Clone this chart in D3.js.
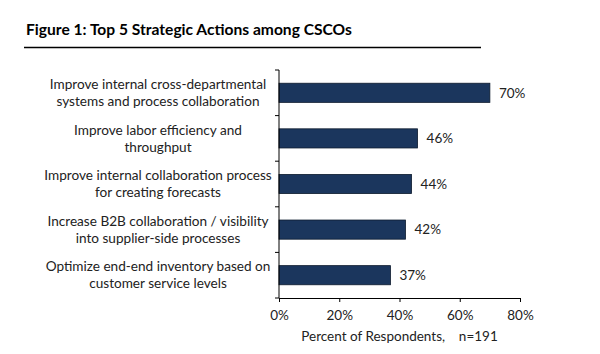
<!DOCTYPE html>
<html>
<head>
<meta charset="utf-8">
<script src="https://cdn.jsdelivr.net/npm/d3@7"></script>
<style>
  body { margin: 0; background: #fff; }
  text { font-family: Lato, "Open Sans", sans-serif; fill: #222; }
</style>
</head>
<body>
<div id="chart"></div>
<script>
// Chart data
const categories = [
    ["Improve internal cross-departmental", "systems and process collaboration"],
    ["Improve labor efficiency and", "throughput"],
    ["Improve internal collaboration process", "for creating forecasts"],
    ["Increase B2B collaboration / visibility", "into supplier-side processes"],
    ["Optimize end-end inventory based on", "customer service levels"]
];
const values = [70, 46, 44, 42, 37];
const xTicks = [0, 20, 40, 60, 80];
const titleText = "Figure 1: Top 5 Strategic Actions among CSCOs";
const xLabel = "Percent of Respondents,    n=191";

const W = 600, H = 354;
const margin = { top: 70, right: 80, bottom: 56, left: 279 };
const width = W - margin.left - margin.right;
const height = H - margin.top - margin.bottom;

const root = d3.select("#chart").append("svg")
    .attr("width", W)
    .attr("height", H);

// Title and rule under it
root.append("text")
    .attr("x", 26)
    .attr("y", 35)
    .style("font-size", "15.6px")
    .style("font-weight", "bold")
    .style("fill", "#000")
    .text(titleText);

root.append("line")
    .attr("x1", 24).attr("x2", 481)
    .attr("y1", 47.5).attr("y2", 47.5)
    .attr("stroke", "#000")
    .attr("stroke-width", 1.5);

const svg = root.append("g")
    .attr("transform", `translate(${margin.left},${margin.top})`);

const idx = values.map((d, i) => i);

const xScale = d3.scaleLinear().domain([0, 80]).range([0, width]);
const yScale = d3.scaleBand().domain(idx).range([0, height]).paddingInner(0.58).paddingOuter(0.29);
const yEdges = d3.scaleLinear().domain([0, values.length]).range([0, height]);

// Bars
svg.selectAll(".bar")
    .data(idx)
    .enter()
    .append("rect")
    .attr("class", "bar")
    .attr("x", 0)
    .attr("y", i => yScale(i))
    .attr("width", i => xScale(values[i]))
    .attr("height", yScale.bandwidth())
    .attr("fill", "#1b365d")
    .attr("stroke", "#0d1b2e")
    .attr("stroke-width", 0.8);

// Value labels
svg.selectAll(".val")
    .data(idx)
    .enter()
    .append("text")
    .attr("class", "val")
    .attr("x", i => xScale(values[i]) + 9)
    .attr("y", i => yScale(i) + yScale.bandwidth() / 2)
    .attr("dy", "0.35em")
    .style("font-size", "13.5px")
    .text(i => values[i] + "%");

// Category labels (two lines each)
const cat = svg.selectAll(".cat")
    .data(idx)
    .enter()
    .append("text")
    .attr("class", "cat")
    .attr("text-anchor", "middle")
    .style("font-size", "13.6px");

cat.selectAll("tspan")
    .data(i => categories[i].map((t, k) => ({ t, k, i })))
    .enter()
    .append("tspan")
    .attr("x", -121)
    .attr("y", d => yScale(d.i) + yScale.bandwidth() / 2 + (d.k === 0 ? -8.5 : 8.5))
    .attr("dy", "0.35em")
    .text(d => d.t);

// Y axis with ticks at band edges
const yAxis = svg.append("g");
yAxis.append("line")
    .attr("x1", 0).attr("x2", 0)
    .attr("y1", 0).attr("y2", height)
    .attr("stroke", "#000");
yAxis.selectAll(".ytick")
    .data(d3.range(values.length + 1))
    .enter()
    .append("line")
    .attr("x1", -4).attr("x2", 0)
    .attr("y1", d => yEdges(d)).attr("y2", d => yEdges(d))
    .attr("stroke", "#000");

// X axis
const xAxis = svg.append("g")
    .attr("transform", `translate(0,${height})`)
    .call(d3.axisBottom(xScale).tickValues(xTicks).tickSize(4).tickPadding(8).tickFormat(d => d + "%"));
xAxis.select(".domain").attr("stroke", "#000");
xAxis.selectAll(".tick line").attr("stroke", "#000");
xAxis.selectAll("text")
    .style("font-family", "Lato, 'Open Sans', sans-serif")
    .style("font-size", "13.5px")
    .style("fill", "#222");

svg.append("text")
    .attr("x", width / 2)
    .attr("y", height + 43)
    .attr("text-anchor", "middle")
    .style("font-size", "13.5px")
    .attr("xml:space", "preserve")
    .text(xLabel);
</script>
</body>
</html>
